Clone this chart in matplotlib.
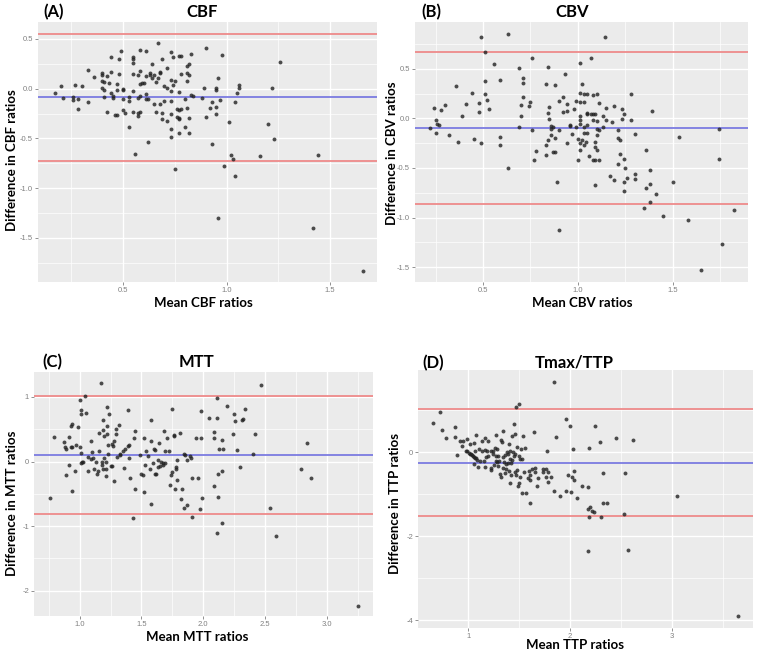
import matplotlib

matplotlib.use("Agg")
import matplotlib.pyplot as plt
from matplotlib.ticker import FixedLocator

plt.rcParams["font.family"] = ["Lato", "DejaVu Sans"]
plt.rcParams["axes.unicode_minus"] = False

# (A) CBF
cbf_mean = [0.17, 0.20, 0.21, 0.26, 0.26, 0.27, 0.28, 0.28, 0.30, 0.33, 0.33,
            0.67, 0.90, 0.49, 0.58, 0.61, 0.73, 0.77, 0.78, 0.83, 0.98, 0.44, 0.48, 0.55, 0.55, 0.69,
            0.74, 0.55, 0.64, 0.81, 0.82, 0.36, 0.40, 0.40, 0.42, 0.44, 0.48, 0.55, 0.57, 0.58, 0.61,
            0.63, 0.63, 0.65, 0.68, 0.68, 0.71, 0.78, 0.81, 0.82, 0.64, 0.67, 0.73, 0.75, 0.81, 0.96,
            0.40, 0.41, 0.43, 0.47, 0.58, 0.59, 0.60, 0.66, 0.70, 0.71, 0.73, 0.74, 0.77, 1.06, 1.06,
            1.05, 1.04, 0.95, 0.95, 0.89, 0.40, 0.41, 0.44, 0.45, 0.45, 0.41, 0.47, 0.50, 0.50, 0.53,
            0.55, 0.58, 0.61, 0.61, 0.62, 0.50, 0.53, 0.57, 0.65, 0.68, 0.70, 0.73, 0.80, 0.83, 0.84,
            0.88, 0.97, 0.93, 0.95, 0.92, 0.76, 0.77, 0.78, 0.81, 0.66, 0.69, 0.73, 0.42, 0.50, 0.51,
            0.55, 0.57, 0.58, 0.46, 0.47, 0.57, 0.69, 0.71, 0.76, 0.77, 0.77, 0.82, 0.90, 0.95, 1.01,
            1.20, 0.53, 0.73, 0.80, 0.73, 0.77, 0.82, 0.62, 0.93, 0.56, 1.02, 1.03, 1.16, 0.99, 0.75,
            1.04, 1.22, 1.26, 1.23, 1.44, 1.42, 0.96, 1.66]
cbf_diff = [-0.04, 0.03, -0.09, -0.08, -0.11, 0.04, -0.20, -0.10, 0.03, -0.13, 0.19,
            0.46, 0.41, 0.38, 0.39, 0.38, 0.37, 0.33, 0.33, 0.35, 0.34, 0.32, 0.30, 0.32, 0.30, 0.30,
            0.32, 0.26, 0.25, 0.23, 0.25, 0.12, 0.16, 0.14, 0.13, 0.17, 0.15, 0.15, 0.14, 0.18, 0.13,
            0.16, 0.14, 0.14, 0.16, 0.17, 0.21, 0.15, 0.16, 0.14, 0.11, 0.11, 0.09, 0.08, 0.08, 0.11,
            0.08, 0.07, 0.06, 0.05, 0.05, 0.06, 0.06, 0.07, 0.03, 0.01, -0.02, 0.04, -0.03, 0.04, 0.01,
            -0.04, -0.13, 0.01, -0.01, 0.01, 0.01, -0.01, -0.04, -0.07, -0.09, -0.08, -0.01, 0.00, -0.01, -0.08,
            -0.02, -0.07, -0.05, -0.10, -0.10, -0.10, -0.12, -0.09, -0.15, -0.15, -0.12, -0.12, -0.10, -0.06, -0.07,
            -0.09, -0.11, -0.13, -0.18, -0.19, -0.20, -0.21, -0.20, -0.19, -0.23, -0.24, -0.25, -0.23, -0.21, -0.24,
            -0.23, -0.24, -0.23, -0.27, -0.27, -0.28, -0.31, -0.33, -0.29, -0.30, -0.31, -0.30, -0.29, -0.26, -0.34,
            -0.36, -0.39, -0.41, -0.39, -0.49, -0.45, -0.45, -0.54, -0.56, -0.66, -0.67, -0.71, -0.68, -0.78, -0.81,
            -0.88, 0.01, 0.27, -0.51, -0.67, -1.40, -1.30, -1.84]

# (B) CBV
cbv_mean = [0.22, 0.24, 0.25, 0.25, 0.26, 0.27, 0.28, 0.30, 0.32, 0.36, 0.37,
            0.49, 0.63, 1.14, 0.51, 0.56, 0.76, 1.01, 1.07, 0.69, 0.84, 0.93, 0.51, 0.59, 0.71, 0.71,
            0.83, 0.88, 1.02, 0.44, 0.51, 0.52, 0.41, 0.48, 0.53, 0.48, 0.39, 0.71, 0.70, 0.74, 0.75,
            0.70, 0.69, 0.76, 0.59, 0.59, 0.45, 0.49, 0.63, 1.28, 1.39, 1.28, 1.30, 1.53, 1.36, 1.38,
            0.92, 0.90, 0.85, 0.84, 0.85, 0.92, 0.94, 0.94, 0.98, 0.99, 1.01, 1.01, 1.03, 1.03, 1.05,
            1.08, 1.10, 1.11, 1.15, 1.19, 1.23, 1.24, 1.23, 1.18, 1.21, 1.21, 1.22, 1.22, 1.24, 1.21,
            1.25, 1.30, 1.26, 1.30, 1.17, 1.19, 1.24, 1.38, 1.36, 1.50, 1.09, 0.89, 1.05, 1.05, 1.07,
            1.08, 1.09, 1.01, 1.01, 1.08, 1.10, 1.13, 1.15, 1.13, 1.10, 1.11, 1.05, 1.03, 1.01, 0.99,
            0.96, 0.96, 0.90, 0.87, 0.86, 0.86, 0.86, 0.88, 0.97, 1.00, 1.03, 1.05, 1.10, 1.09, 1.02,
            1.01, 1.03, 1.04, 0.94, 0.84, 0.83, 0.78, 0.77, 0.83, 0.87, 0.88, 1.00, 1.01, 1.06, 1.08,
            1.09, 1.11, 1.09, 1.10, 1.74, 1.74, 1.76, 1.82, 1.65, 1.58, 1.45, 1.35, 1.38, 1.41, 0.90,
            1.24]
cbv_diff = [-0.10, 0.10, -0.02, -0.15, -0.06, -0.07, 0.08, 0.13, -0.17, 0.33, -0.24,
            0.82, 0.85, 0.82, 0.67, 0.55, 0.61, 0.56, 0.61, 0.51, 0.52, 0.45, 0.38, 0.39, 0.41, 0.36,
            0.35, 0.34, 0.35, 0.26, 0.24, 0.18, 0.14, 0.15, 0.09, 0.06, 0.02, 0.21, 0.13, 0.12, 0.16,
            0.02, -0.09, -0.12, -0.19, -0.27, -0.21, -0.25, -0.50, 0.25, 0.07, -0.02, -0.16, -0.19, -0.32, -0.52,
            0.21, 0.17, 0.11, 0.05, -0.01, 0.06, 0.07, 0.14, 0.09, 0.17, 0.26, 0.16, 0.25, 0.16, 0.24,
            0.23, 0.24, 0.15, 0.10, 0.12, 0.09, 0.04, -0.01, -0.04, -0.12, -0.20, -0.22, -0.36, -0.41, -0.46,
            -0.50, -0.56, -0.60, -0.61, -0.58, -0.62, -0.64, -0.66, -0.70, -0.64, -0.67, -0.64, 0.05, 0.04, 0.04,
            0.04, 0.04, 0.02, -0.02, -0.02, -0.03, 0.02, -0.02, -0.09, -0.11, -0.12, -0.07, -0.09, -0.06, -0.09,
            -0.07, -0.08, -0.12, -0.09, -0.08, -0.11, -0.17, -0.20, -0.16, -0.21, -0.15, -0.15, -0.17, -0.24, -0.22,
            -0.25, -0.27, -0.24, -0.25, -0.22, -0.27, -0.33, -0.42, -0.37, -0.34, -0.34, -0.42, -0.32, -0.38, -0.42,
            -0.42, -0.42, -0.29, -0.32, -0.11, -0.41, -1.27, -0.92, -1.53, -1.02, -0.98, -0.90, -0.84, -0.76, -1.12,
            -0.73]

# (C) MTT
mtt_mean = [0.76, 0.79, 0.87, 0.88, 0.89, 0.89, 0.91, 0.91, 0.93, 0.93, 0.94, 0.94, 0.94, 0.96,
            0.97, 0.99, 1.00, 1.00, 1.01, 1.01, 1.01, 1.01, 1.02, 1.03, 1.04, 1.05, 1.07, 1.07, 1.09,
            1.09, 1.10, 1.11, 1.12, 1.13, 1.14, 1.15, 1.16, 1.16, 1.17, 1.18, 1.18, 1.19, 1.19, 1.19,
            1.20, 1.20, 1.21, 1.21, 1.21, 1.22, 1.22, 1.22, 1.23, 1.23, 1.24, 1.25, 1.26, 1.26, 1.27,
            1.28, 1.28, 1.29, 1.29, 1.30, 1.32, 1.33, 1.33, 1.35, 1.36, 1.37, 1.39, 1.39, 1.40, 1.40,
            1.41, 1.43, 1.44, 1.45, 1.45, 1.49, 1.50, 1.51, 1.52, 1.52, 1.53, 1.54, 1.55, 1.57, 1.58,
            1.58, 1.58, 1.59, 1.60, 1.61, 1.61, 1.62, 1.63, 1.63, 1.64, 1.65, 1.66, 1.67, 1.67, 1.68,
            1.69, 1.69, 1.71, 1.72, 1.73, 1.74, 1.75, 1.75, 1.76, 1.76, 1.77, 1.78, 1.78, 1.79, 1.79,
            1.81, 1.82, 1.83, 1.84, 1.84, 1.85, 1.87, 1.87, 1.89, 1.90, 1.91, 1.91, 1.94, 1.96, 1.97,
            1.98, 1.98, 1.99, 2.05, 2.09, 2.09, 2.09, 2.11, 2.11, 2.11, 2.12, 2.12, 2.13, 2.15, 2.15,
            2.15, 2.16, 2.19, 2.24, 2.25, 2.26, 2.27, 2.30, 2.31, 2.32, 2.34, 2.40, 2.42, 2.47, 2.54,
            2.59, 2.79, 2.84, 2.87, 3.25]
mtt_diff = [-0.56, 0.38, 0.30, 0.23, 0.19, -0.21, 0.38, -0.05, 0.23, 0.55, 0.58, 0.22, -0.46, -0.14,
            0.26, 0.53, 0.23, 0.95, 0.80, 0.74, -0.02, 0.13, -0.01, 0.00, 1.02, 0.75, -0.14, 0.07, 0.32,
            0.04, 0.15, 0.05, -0.11, 0.00, -0.19, -0.14, 0.44, 0.17, 1.22, 0.00, -0.06, -0.12, 0.64, 0.49,
            0.06, 0.39, -0.11, -0.23, 0.00, 0.55, 0.84, 0.42, 0.12, 0.26, 0.74, -0.07, -0.07, 0.27, 0.24,
            -0.30, 0.32, 0.43, 0.50, 0.07, 0.56, 0.10, 0.11, 0.16, -0.10, 0.19, 0.24, 0.80, 0.25, 0.06,
            -0.25, -0.87, 0.36, 0.47, -0.42, 0.10, -0.19, -0.21, -0.47, 0.36, -0.06, 0.16, 0.08, -0.12, 0.32,
            0.64, -0.65, -0.02, 0.20, -0.20, 0.18, -0.20, 0.02, -0.09, 0.29, -0.07, -0.01, -0.05, -0.02, 0.47,
            0.16, -0.02, 0.37, 0.16, -0.36, -0.21, 0.82, -0.16, 0.41, 0.40, -0.42, -0.09, -0.12, -0.28, 0.02,
            0.44, -0.58, -0.42, -0.72, 0.11, 0.10, 0.02, -0.68, 0.08, 0.06, -0.26, -0.86, 0.36, -0.26, -0.73,
            0.78, 0.37, -0.56, 0.68, 0.45, 0.36, -0.38, 0.99, 0.67, -1.10, -0.55, -0.20, 0.19, 0.34, -0.95,
            -0.15, 0.20, 0.86, 0.42, 0.74, 0.63, 0.18, -0.08, 0.64, 0.66, 0.82, 0.11, 0.43, 1.19, -0.72,
            -1.15, -0.12, 0.28, -0.26, -2.23]

# (D) Tmax/TTP
ttp_mean = [1.84, 1.50, 1.47, 0.72, 0.66, 0.87, 0.74, 0.87, 0.78, 1.45, 1.65, 1.34, 1.08, 1.17,
            0.92, 0.95, 0.99, 1.27, 1.46, 1.43, 1.54, 1.20, 1.14, 1.06, 1.32, 1.33, 1.40, 1.48, 1.56,
            1.52, 0.94, 1.02, 0.89, 0.98, 0.99, 1.01, 1.02, 1.03, 1.04, 1.05, 1.06, 1.07, 1.08, 1.09,
            1.07, 1.11, 1.14, 1.17, 1.19, 1.22, 1.24, 1.26, 1.28, 1.24, 1.27, 1.29, 1.20, 1.18, 1.12,
            1.16, 1.27, 1.28, 1.30, 1.34, 1.36, 1.38, 1.39, 1.41, 1.43, 1.45, 1.50, 1.51, 1.53, 1.44,
            1.41, 1.46, 1.35, 1.37, 1.39, 1.42, 1.06, 1.10, 1.17, 1.22, 1.22, 1.25, 1.29, 1.34, 1.37,
            1.40, 1.36, 1.31, 1.32, 1.42, 1.46, 1.47, 1.48, 1.51, 1.50, 1.49, 1.41, 1.55, 1.60, 1.61,
            1.63, 1.66, 1.66, 1.59, 1.61, 1.69, 1.68, 1.53, 1.57, 1.61, 1.74, 1.76, 1.74, 1.76, 1.78,
            1.81, 1.77, 1.86, 1.78, 1.84, 1.90, 1.96, 2.00, 2.03, 2.04, 1.98, 2.02, 2.04, 1.96, 2.01,
            2.07, 2.12, 2.18, 2.19, 2.25, 2.29, 2.32, 2.32, 2.36, 2.18, 2.20, 2.22, 2.24, 2.19, 2.30,
            2.45, 2.54, 2.62, 2.53, 2.57, 2.18, 3.05, 3.65]
ttp_diff = [1.66, 1.15, 1.07, 0.96, 0.69, 0.61, 0.52, 0.36, 0.33, 0.67, 0.48, 0.50, 0.40, 0.35,
            0.27, 0.27, 0.31, 0.40, 0.43, 0.39, 0.39, 0.26, 0.26, 0.21, 0.29, 0.25, 0.19, 0.13, 0.10,
            0.07, 0.14, 0.20, -0.06, 0.04, 0.02, -0.02, -0.04, -0.05, -0.06, -0.09, -0.12, -0.13, -0.14, -0.18,
            0.02, 0.08, 0.03, 0.06, 0.02, 0.04, 0.02, 0.11, 0.07, -0.03, -0.08, -0.08, -0.10, -0.12, -0.21,
            -0.21, -0.21, -0.24, -0.22, -0.12, -0.06, 0.00, -0.04, -0.16, -0.18, -0.10, -0.08, -0.17, -0.17, 0.01,
            0.04, -0.04, -0.24, -0.27, -0.26, -0.26, -0.29, -0.35, -0.36, -0.38, -0.42, -0.30, -0.33, -0.38, -0.40,
            -0.44, -0.50, -0.52, -0.59, -0.54, -0.46, -0.53, -0.43, -0.58, -0.74, -0.80, -0.74, -0.46, -0.44, -0.53,
            -0.40, -0.38, -0.46, -0.61, -0.66, -0.62, -0.80, -0.96, -0.98, -1.21, -0.40, -0.40, -0.48, -0.58, -0.48,
            -0.58, 0.02, 0.36, -0.71, -0.92, -1.05, 0.80, 0.62, 0.07, -0.45, -0.54, -0.59, -0.67, -0.92, -0.95,
            -1.09, -0.80, -0.83, 0.10, 0.62, 0.25, -0.50, -1.21, -1.20, -1.34, -1.31, -1.39, -1.43, -1.55, -1.54,
            0.33, -0.50, 0.28, -1.47, -2.32, -2.36, -1.03, -3.89]

panels = [
    dict(tag="(A)", title="CBF", name="CBF", x=cbf_mean, y=cbf_diff,
         lines=(0.547, -0.087, -0.725), xlim=(0.089, 1.727), ylim=(-1.946, 0.671),
         xt=[0.5, 1.0, 1.5], xl=["0.5", "1.0", "1.5"], xm=[0.25, 0.75, 1.25],
         yt=[0.5, 0.0, -0.5, -1.0, -1.5], yl=["0.5", "0.0", "-0.5", "-1.0", "-1.5"],
         ym=[0.25, -0.25, -0.75, -1.25, -1.75],
         box=(38, 22, 377, 282), tagxy=(43, 12), titlex=202, xlab=(203, 303), ylab=(12, 160)),
    dict(tag="(B)", title="CBV", name="CBV", x=cbv_mean, y=cbv_diff,
         lines=(0.665, -0.10, -0.866), xlim=(0.142, 1.895), ylim=(-1.648, 0.97),
         xt=[0.5, 1.0, 1.5], xl=["0.5", "1.0", "1.5"], xm=[0.25, 0.75, 1.25, 1.75],
         yt=[0.5, 0.0, -0.5, -1.0, -1.5], yl=["0.5", "0.0", "-0.5", "-1.0", "-1.5"],
         ym=[0.75, 0.25, -0.25, -0.75, -1.25],
         box=(415, 22, 748, 282), tagxy=(421, 12), titlex=572, xlab=(582, 303), ylab=(392, 153)),
    dict(tag="(C)", title="MTT", name="MTT", x=mtt_mean, y=mtt_diff,
         lines=(1.01, 0.098, -0.814), xlim=(0.631, 3.372), ylim=(-2.392, 1.387),
         xt=[1.0, 1.5, 2.0, 2.5, 3.0], xl=["1.0", "1.5", "2.0", "2.5", "3.0"],
         xm=[0.75, 1.25, 1.75, 2.25, 2.75, 3.25],
         yt=[1, 0, -1, -2], yl=["1", "0", "-1", "-2"], ym=[0.5, -0.5, -1.5],
         box=(34, 372, 373, 616), tagxy=(42, 362), titlex=197, xlab=(197, 637), ylab=(12, 503)),
    dict(tag="(D)", title="Tmax/TTP", name="TTP", x=ttp_mean, y=ttp_diff,
         lines=(1.02, -0.246, -1.52), xlim=(0.508, 3.797), ylim=(-4.18, 1.956),
         xt=[1, 2, 3], xl=["1", "2", "3"], xm=[1.5, 2.5, 3.5],
         yt=[0, -2, -4], yl=["0", "-2", "-4"], ym=[1, -1, -3],
         box=(418, 370, 753, 628), tagxy=(422, 363), titlex=574, xlab=(575, 645), ylab=(395, 503)),
]

W, H = 760, 654
fig = plt.figure(figsize=(W / 100, H / 100), dpi=100)
tick_font = dict(fontfamily="Liberation Sans", fontsize=5.5, color="#808080")

for p in panels:
    x0, y0, x1, y1 = p["box"]
    ax = fig.add_axes([x0 / W, 1 - y1 / H, (x1 - x0) / W, (y1 - y0) / H])
    ax.set_facecolor("#EBEBEB")
    for side in ax.spines.values():
        side.set_visible(False)
    ax.set_xlim(*p["xlim"])
    ax.set_ylim(*p["ylim"])
    ax.set_xticks(p["xt"])
    ax.set_xticklabels(p["xl"], **tick_font)
    ax.set_yticks(p["yt"])
    ax.set_yticklabels(p["yl"], **tick_font)
    ax.xaxis.set_minor_locator(FixedLocator(p["xm"]))
    ax.yaxis.set_minor_locator(FixedLocator(p["ym"]))
    ax.grid(True, which="major", color="white", lw=1.0)
    ax.grid(True, which="minor", color="white", lw=0.5)
    ax.set_axisbelow(True)
    ax.tick_params(which="major", length=2, width=0.6, color="#808080", pad=1.5)
    ax.tick_params(which="minor", length=0)

    up, mid, low = p["lines"]
    ax.axhline(up, color="#EE8A8A", lw=1.3, zorder=2)
    ax.axhline(low, color="#EE8A8A", lw=1.3, zorder=2)
    ax.axhline(mid, color="#7B7BE0", lw=1.3, zorder=2)
    ax.scatter(p["x"], p["y"], s=8, color="#222222", alpha=0.8, lw=0, zorder=3)

    fig.text(p["tagxy"][0] / W, 1 - p["tagxy"][1] / H, p["tag"], fontsize=12,
             fontweight="bold", ha="left", va="center")
    fig.text(p["titlex"] / W, 1 - p["tagxy"][1] / H, p["title"], fontsize=12,
             fontweight="bold", ha="center", va="center")
    fig.text(p["xlab"][0] / W, 1 - p["xlab"][1] / H, f"Mean {p['name']} ratios",
             fontsize=9.5, fontweight="bold", ha="center", va="center")
    fig.text(p["ylab"][0] / W, 1 - p["ylab"][1] / H, f"Difference in {p['name']} ratios",
             fontsize=9.5, fontweight="bold", ha="center", va="center", rotation=90)

fig.savefig("out.png", dpi=100, facecolor="white")
plt.close(fig)
